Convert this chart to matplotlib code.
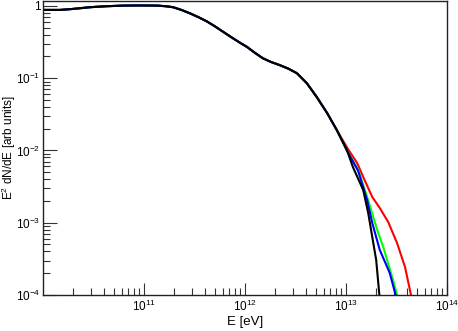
import matplotlib
matplotlib.use("Agg")
import matplotlib.pyplot as plt
from matplotlib.ticker import LogLocator, NullFormatter, FixedLocator, FixedFormatter

plt.rcParams['font.family'] = ['Liberation Sans', 'DejaVu Sans']
plt.rcParams['mathtext.default'] = 'regular'

# Shared low-energy part of all spectra
E_common = [1.0e10, 1.47e10, 2.0e10, 2.92e10, 4.2e10, 6.2e10, 9.0e10, 1.35e11, 1.65e11,
            1.94e11, 2.35e11, 2.85e11, 3.45e11, 4.2e11, 5.0e11, 6.05e11, 7.3e11, 8.9e11,
            1.05e12, 1.25e12, 1.5e12, 1.8e12, 2.2e12, 2.7e12, 3.27e12, 4.1e12, 5.1e12,
            6.5e12, 8.1e12]
F_common = [0.88, 0.88, 0.91, 0.96, 0.99, 1.01, 1.015, 1.01, 0.99,
            0.96, 0.88, 0.79, 0.70, 0.61, 0.525, 0.44, 0.37, 0.31,
            0.27, 0.225, 0.189, 0.168, 0.152, 0.135, 0.117, 0.085, 0.0556,
            0.033, 0.0192]

# High-energy tails
E_red = [1.04e13, 1.29e13, 1.48e13, 1.82e13, 2.16e13, 2.62e13, 3.2e13, 3.84e13, 4.4e13, 4.6e13]
F_red = [0.0106, 0.0067, 0.0043, 0.00227, 0.0016, 0.00102, 0.000525, 0.000244, 1.0e-4, 6e-5]

E_green = [1.02e13, 1.32e13, 1.62e13, 2.04e13, 2.34e13, 2.92e13, 3.2e13, 3.3e13]
F_green = [0.0100, 0.0054, 0.00227, 0.00079, 0.00046, 0.000162, 1.0e-4, 7e-5]

E_blue = [1.02e13, 1.32e13, 1.62e13, 1.82e13, 2.16e13, 2.71e13, 3.1e13, 3.2e13]
F_blue = [0.0100, 0.0052, 0.00205, 0.00099, 0.00042, 0.000202, 1.0e-4, 7e-5]

E_black = [1.02e13, 1.17e13, 1.48e13, 1.66e13, 1.82e13, 1.99e13, 2.14e13, 2.2e13]
F_black = [0.0102, 0.0059, 0.00284, 0.00136, 0.000635, 0.000305, 1.0e-4, 6e-5]

x_ticks = [1e11, 1e12, 1e13, 1e14]
x_ticklabels = ['$10^{11}$', '$10^{12}$', '$10^{13}$', '$10^{14}$']
y_ticks = [1e-4, 1e-3, 1e-2, 1e-1, 1]
y_ticklabels = ['$10^{-4}$', '$10^{-3}$', '$10^{-2}$', '$10^{-1}$', '1']

fig = plt.figure(figsize=(4.58, 3.31), dpi=100)
ax = fig.add_axes([43/458, 1 - 295/331, (447 - 43)/458, (295 - 1)/331])

for E_t, F_t, c in [(E_red, F_red, 'red'), (E_green, F_green, '#00ff00'),
                    (E_blue, F_blue, 'blue'), (E_black, F_black, 'black')]:
    ax.plot(E_common + E_t, F_common + F_t, color=c, lw=1.5,
            solid_joinstyle='round', solid_capstyle='round')

ax.set_xscale('log')
ax.set_yscale('log')
ax.set_xlim(1e10, 1e14)
ax.set_ylim(1e-4, 1.17)

ax.xaxis.set_major_locator(FixedLocator(x_ticks))
ax.xaxis.set_major_formatter(FixedFormatter(x_ticklabels))
ax.xaxis.set_minor_locator(LogLocator(base=10, subs=range(2, 10), numticks=20))
ax.xaxis.set_minor_formatter(NullFormatter())
ax.yaxis.set_major_locator(FixedLocator(y_ticks))
ax.yaxis.set_major_formatter(FixedFormatter(y_ticklabels))
ax.yaxis.set_minor_locator(LogLocator(base=10, subs=range(2, 10), numticks=20))
ax.yaxis.set_minor_formatter(NullFormatter())

ax.tick_params(which='both', direction='in', top=False, right=False, color='#333333', width=0.8)
ax.tick_params(axis='x', which='major', length=9, labelsize=8.5, pad=3)
ax.tick_params(axis='x', which='minor', length=5)
ax.tick_params(axis='y', which='major', length=10, labelsize=8.5, pad=2)
ax.tick_params(axis='y', which='minor', length=5)

for s in ax.spines.values():
    s.set_color('#222222')
    s.set_linewidth(1.0)

ax.set_xlabel('E [eV]', fontsize=9.5, labelpad=1)
ax.set_ylabel('E$^{2}$ dN/dE [arb units]', fontsize=8.5, va='center')
ax.yaxis.set_label_coords(-34 / 404, 0.5)

fig.savefig('out.png', dpi=100)
